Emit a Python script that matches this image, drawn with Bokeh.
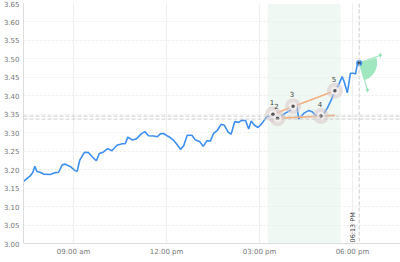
from bokeh.plotting import figure
from bokeh.models import Range1d, FixedTicker, PrintfTickFormatter, BoxAnnotation, Span, Label
from bokeh.core.properties import value
from bokeh.embed import file_html
from bokeh.resources import INLINE

# time in minutes since midnight, price values
times = [443, 456, 461, 465, 469, 475, 482, 495, 505, 511, 518, 524, 534, 543, 547, 552, 561, 569, 576, 584,
         590, 598, 606, 614, 624, 634, 640, 645, 654, 662, 671, 678, 685, 695, 702, 708, 714, 722, 727, 734,
         740, 747, 753, 760, 769, 776, 784, 791, 798, 805, 811, 818, 826, 832, 839, 845, 852, 860, 866, 873,
         879, 884, 890, 897, 904, 909, 914, 919, 926, 935, 942, 950, 960, 965, 972, 976, 986, 995, 1002, 1008,
         1019, 1023, 1031, 1039, 1046, 1053, 1060, 1064, 1070, 1073, 1076, 1082, 1086, 1089, 1093]
prices = [3.168, 3.183, 3.192, 3.209, 3.195, 3.193, 3.188, 3.187, 3.192, 3.193, 3.213, 3.215, 3.208, 3.197, 3.196,
          3.226, 3.247, 3.246, 3.235, 3.224, 3.244, 3.248, 3.257, 3.251, 3.266, 3.270, 3.270, 3.288, 3.280, 3.284,
          3.297, 3.303, 3.292, 3.291, 3.289, 3.297, 3.298, 3.291, 3.287, 3.279, 3.269, 3.255, 3.264, 3.293, 3.293,
          3.280, 3.276, 3.263, 3.278, 3.278, 3.298, 3.306, 3.323, 3.320, 3.302, 3.296, 3.330, 3.328, 3.334, 3.333,
          3.310, 3.332, 3.321, 3.314, 3.324, 3.334, 3.343, 3.345, 3.350, 3.339, 3.345, 3.353, 3.361, 3.372, 3.375,
          3.337, 3.353, 3.360, 3.357, 3.348, 3.345, 3.348, 3.366, 3.389, 3.414, 3.429, 3.452, 3.438, 3.408, 3.434,
          3.461, 3.461, 3.459, 3.483, 3.489]

# pattern points
pat_times = [926, 935, 965, 1019, 1046]
pat_prices = [3.350, 3.339, 3.372, 3.345, 3.414]
pat_labels = ["1", "2", "3", "4", "5"]
upper_times = [926, 1046]
upper_prices = [3.350, 3.414]
lower_times = [935, 1046]
lower_prices = [3.339, 3.347]

# projection fan
fan_origin_time = 1093
fan_origin_price = 3.489
fan_end_times = [1134, 1109]
fan_end_prices = [3.510, 3.416]

# zones and reference lines
zone_start, zone_end = 916, 1057
ref_levels = [3.345, 3.337]
marker_time = 1093
marker_text = "06:13 PM"

x_ticks = [540, 720, 900, 1080]
x_tick_labels = ["09:00 am", "12:00 pm", "03:00 pm", "06:00 pm"]
y_ticks = [3.00, 3.05, 3.10, 3.15, 3.20, 3.25, 3.30, 3.35, 3.40, 3.45, 3.50, 3.55, 3.60, 3.65]

FONT = "DejaVu Sans"

p = figure(width=400, height=262, output_backend="svg", toolbar_location=None,
           x_range=Range1d(443, 1173), y_range=Range1d(3.00, 3.65),
           min_border_left=23, min_border_right=0, min_border_top=3, min_border_bottom=19)
p.outline_line_color = None
p.background_fill_color = "white"

p.xaxis.ticker = FixedTicker(ticks=x_ticks)
p.xaxis.major_label_overrides = {t: l for t, l in zip(x_ticks, x_tick_labels)}
p.yaxis.ticker = FixedTicker(ticks=y_ticks)
p.yaxis.formatter = PrintfTickFormatter(format="%.2f")
for ax in (p.xaxis, p.yaxis):
    ax.major_tick_line_color = None
    ax.minor_tick_line_color = None
    ax.major_tick_out = 0
    ax.major_tick_in = 0
    ax.minor_tick_out = 0
    ax.minor_tick_in = 0
    ax.axis_line_color = "#dddddd"
    ax.major_label_text_font = FONT
    ax.major_label_text_font_size = "7px"
    ax.major_label_text_color = "#777777"
p.yaxis.major_label_standoff = 4
p.xaxis.major_label_standoff = 4

p.xgrid.grid_line_color = "#eeeeee"
p.ygrid.grid_line_color = "#ebebeb"
p.ygrid.grid_line_dash = "2 2"

p.add_layout(BoxAnnotation(left=zone_start, right=zone_end, fill_color="#e4f4ea", fill_alpha=0.6,
                           line_color=None, level="underlay"))
for lv in ref_levels:
    p.add_layout(Span(location=lv, dimension="width", line_color="#cccccc", line_dash="4 2", line_width=1))
p.add_layout(Span(location=marker_time, dimension="height", line_color="#cccccc", line_dash="4 2", line_width=1))
p.add_layout(Label(x=marker_time, y=3.0, text=marker_text, angle=1.5708, x_offset=-2, y_offset=1,
                   text_font=FONT, text_font_size="6.5px", text_color="#444444",
                   text_align="left", text_baseline="bottom"))

# price line
p.line(times, prices, line_color="#3d8ff0", line_width=1.6)

# pattern lines
p.line(upper_times, upper_prices, line_color="#f5a673", line_width=1.6, line_alpha=0.9)
p.line(lower_times, lower_prices, line_color="#f5a673", line_width=1.6, line_alpha=0.9)

# pattern points
p.scatter(pat_times, pat_prices, size=16, fill_color="#d8c8c8", fill_alpha=0.55, line_color=None)
p.scatter(pat_times, pat_prices, size=8, fill_color="#f6f2f2", fill_alpha=0.85, line_color=None)
p.scatter(pat_times, pat_prices, size=3.5, fill_color="#555555", line_color=None)
p.text(pat_times, pat_prices, text=pat_labels, y_offset=-9, x_offset=-1,
       text_font=value(FONT), text_font_size="7px", text_color="#444444",
       text_align="center", text_baseline="bottom")

# projection fan
p.wedge(x=[fan_origin_time], y=[fan_origin_price], radius=18, radius_units="screen",
        start_angle=-1.27, end_angle=0.30, fill_color="#8fe3b5", fill_alpha=0.85, line_color=None)
for et, ep in zip(fan_end_times, fan_end_prices):
    p.line([fan_origin_time, et], [fan_origin_price, ep], line_color="#9fe6bf", line_width=1.2)
p.scatter(fan_end_times, fan_end_prices, size=5, marker="diamond", fill_color="#8fe3b5", line_color=None)

# last point
p.scatter([fan_origin_time], [fan_origin_price], size=6, fill_color="#3d8ff0", line_color=None)
p.scatter([fan_origin_time], [fan_origin_price], size=3, fill_color="#444444", line_color=None)

open("out.html", "w").write(file_html(p, INLINE))
